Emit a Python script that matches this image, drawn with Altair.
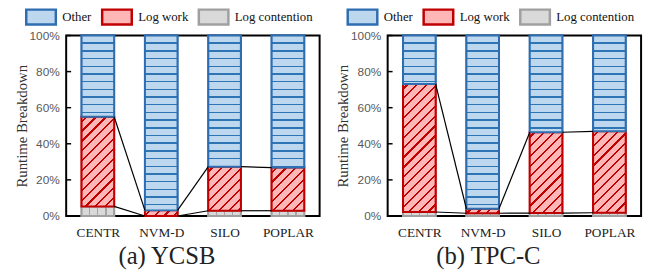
import json
import altair as alt

# ---------------- data ----------------
categories = ["CENTR", "NVM-D", "SILO", "POPLAR"]
series_names = ["Other", "Log work", "Log contention"]

ycsb_contention = [5.3, 0.0, 2.9, 2.9]
ycsb_logwork = [49.7, 3.1, 24.4, 23.9]

tpcc_contention = [2.2, 1.5, 1.6, 1.8]
tpcc_logwork = [70.9, 2.5, 44.8, 45.1]

y_ticks = [0, 20, 40, 60, 80, 100]

# ---------------- styles ----------------
W, H = 257, 183
HW = 0.257  # half bar width in category units
fills = {"Other": "#bdd7ee", "Log work": "#ffb6b6", "Log contention": "#d9d9d9"}
lines = {"Other": "#2e75b6", "Log work": "#c00000", "Log contention": "#a6a6a6"}
strokes = {"Other": "#2e6db0", "Log work": "#c00000", "Log contention": "#a0a0a0"}


def stripe_stops(length, period, thick, start, fill, line):
    stops = [{"offset": 0, "color": fill}]
    c = start
    while c - thick / 2 < length:
        a = max(c - thick / 2, 0) / length
        b = min(c + thick / 2, length) / length
        stops += [{"offset": a, "color": fill}, {"offset": a, "color": line},
                  {"offset": b, "color": line}, {"offset": b, "color": fill}]
        c += period
    stops.append({"offset": 1, "color": fill})
    return stops


def pattern(series, height_pct):
    w = 2 * HW * W / len(categories)
    h = max(height_pct * H / 100.0, 0.5)
    f, l = fills[series], lines[series]
    if series == "Other":
        return {"gradient": "linear", "x1": 0, "y1": 0, "x2": 0, "y2": 1,
                "stops": stripe_stops(h, 7.8, 1.5, 7.8, f, l)}
    if series == "Log work":
        k = (w + h) / (w * w + h * h)
        return {"gradient": "linear", "x1": 0, "y1": 0, "x2": k * w, "y2": k * h,
                "stops": stripe_stops(w + h, 10.0, 2.2, 5.0, f, l)}
    return {"gradient": "linear", "x1": 0, "y1": 0, "x2": 1, "y2": 0,
            "stops": stripe_stops(w, 8.25, 1.3, 8.25, f, l)}


label_expr = json.dumps(categories) + "[datum.value]"
X_AXIS = alt.Axis(values=list(range(len(categories))), labelExpr=label_expr, ticks=False,
                  domain=False, grid=False, title=None, labelFont="Liberation Serif",
                  labelFontSize=13.5, labelColor="#222222", labelPadding=10)
Y_AXIS = alt.Axis(values=y_ticks, labelExpr="datum.value + '%'", ticks=False, domain=False,
                  grid=False, title="Runtime Breakdown", titleFont="Liberation Serif",
                  titleFontSize=15, titleFontWeight="normal", titleColor="#333333",
                  titlePadding=0, labelFont="Liberation Sans", labelFontSize=12,
                  labelColor="#595959", labelPadding=7, labelOverlap=False,
                  labelFlush=False)


def panel(contention, logwork, title):
    bar_rows, link_rows = [], []
    cum1, cum2 = [], []
    for i, cat in enumerate(categories):
        c, lw = contention[i], logwork[i]
        cum1.append(c)
        cum2.append(c + lw)
        for s, lo, hi in [("Log contention", 0, c), ("Log work", c, c + lw),
                          ("Other", c + lw, 100)]:
            if hi - lo <= 0:
                continue
            bar_rows.append({"cat": cat, "series": s, "x0": i - HW, "x1": i + HW,
                             "y0": lo, "y1": hi, "grad": pattern(s, hi - lo)})
    for cum in (cum1, cum2):
        for i in range(len(categories) - 1):
            link_rows.append({"x0": i + HW, "x1": i + 1 - HW, "y0": cum[i], "y1": cum[i + 1]})

    xs = alt.Scale(domain=[-0.5, len(categories) - 0.5], nice=False, zero=False)
    ys = alt.Scale(domain=[0, 100], nice=False)
    legend = alt.Legend(orient="none", legendX=-42, legendY=-28, direction="horizontal",
                        title=None, symbolType="M-1,-1H3V1H-1Z", symbolSize=225,
                        symbolStrokeWidth=2.5, labelFont="Liberation Serif", labelFontSize=13,
                        labelColor="#111111", labelOffset=20, columnPadding=5)
    fill_scale = alt.Scale(domain=series_names, range=[fills[s] for s in series_names])
    stroke_scale = alt.Scale(domain=series_names, range=[strokes[s] for s in series_names])

    base = alt.Chart(alt.Data(values=bar_rows))
    plain = base.mark_rect(strokeWidth=2).encode(
        x=alt.X("x0:Q", scale=xs, axis=X_AXIS), x2="x1:Q",
        y=alt.Y("y0:Q", scale=ys, axis=Y_AXIS), y2="y1:Q",
        fill=alt.Fill("series:N", scale=fill_scale, legend=legend),
        stroke=alt.Stroke("series:N", scale=stroke_scale, legend=legend),
    )
    hatched = base.mark_rect(strokeWidth=2).encode(
        x=alt.X("x0:Q", axis=X_AXIS), x2="x1:Q", y=alt.Y("y0:Q", axis=Y_AXIS), y2="y1:Q",
        fill=alt.Fill(field="grad", type="nominal", scale=None),
        stroke=alt.Stroke("series:N", legend=None),
    )
    links = alt.Chart(alt.Data(values=link_rows)).mark_rule(color="black", strokeWidth=1.2).encode(
        x=alt.X("x0:Q", axis=X_AXIS), x2="x1:Q", y=alt.Y("y0:Q", axis=Y_AXIS), y2="y1:Q")
    ticks = alt.Chart(alt.Data(values=[{"v": v} for v in y_ticks])).mark_rule(
        color="black", strokeWidth=1.5).encode(
        y=alt.Y("v:Q", axis=Y_AXIS), x=alt.value(0), x2=alt.value(5))

    return alt.layer(plain, hatched, links, ticks).properties(
        width=W, height=H,
        title=alt.TitleParams(title, orient="bottom", frame="bounds", anchor="middle",
                              font="Liberation Serif", fontSize=25, fontWeight="normal",
                              color="#222222", offset=5),
    )


left = panel(ycsb_contention, ycsb_logwork, "(a) YCSB")
right = panel(tpcc_contention, tpcc_logwork, "(b) TPC-C")

chart = alt.hconcat(left, right, spacing=14).resolve_scale(
    fill="independent", stroke="independent"
).resolve_legend(fill="independent", stroke="independent").properties(
    padding={"left": 5, "top": -3, "right": 5, "bottom": 5}
).configure_view(stroke="black", strokeWidth=2)

chart.save("out.html", embed_options={"renderer": "svg", "actions": False})
